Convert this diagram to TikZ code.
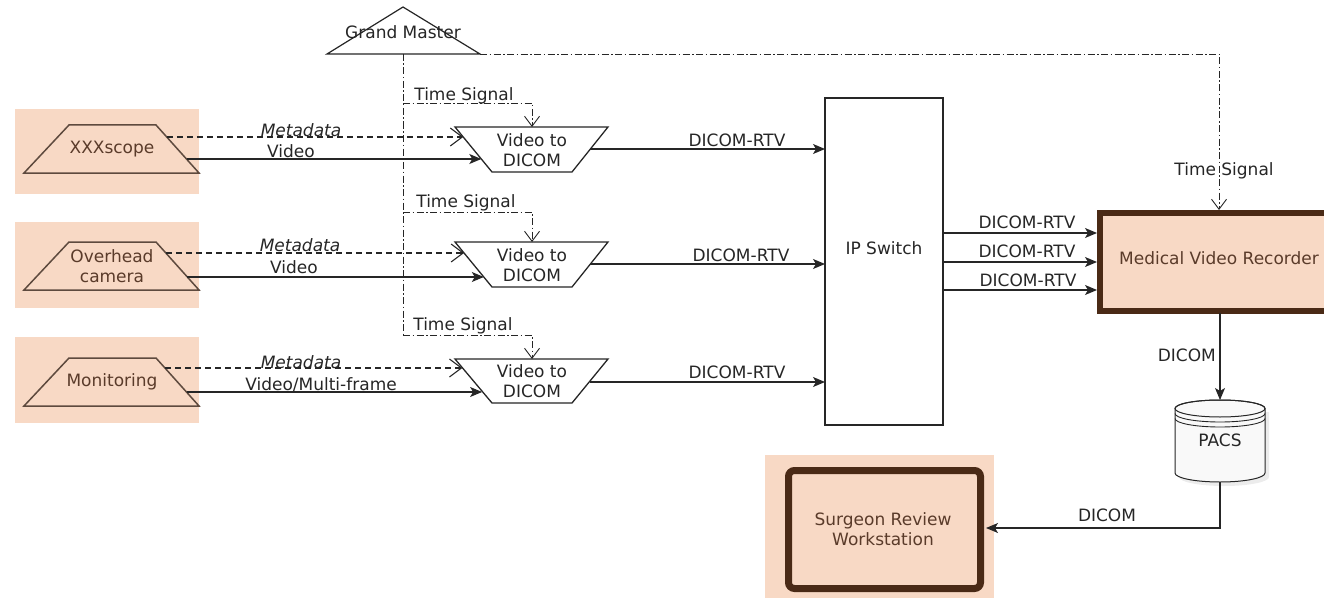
\documentclass[tikz,border=0pt]{standalone}
\usepackage{fontspec}
\setmainfont{DejaVu Sans}
\usetikzlibrary{arrows.meta,calc}
\definecolor{peach}{HTML}{F8D9C5}
\definecolor{brownline}{HTML}{4A2A16}
\definecolor{srcline}{HTML}{5E4A3E}
\definecolor{srctext}{HTML}{5A3B2A}
\definecolor{ink}{HTML}{262626}
\tikzset{
  lbl/.style={inner sep=0pt, text=ink, align=center},
  srclbl/.style={inner sep=0pt, text=srctext, align=center},
  flow/.style={draw=ink, line width=1.1pt, -{Stealth[length=12pt,width=10pt,inset=3pt]}},
  meta/.style={draw=ink, line width=1.1pt, dash pattern=on 6pt off 4pt, -{Straight Barb[length=12pt,width=18pt,line width=1.1pt]}},
  sync/.style={draw=ink, line width=0.9pt, dash pattern=on 7pt off 2.5pt on 1.5pt off 2.5pt},
  syncarrow/.style={sync, -{Straight Barb[length=10pt,width=15pt,line width=0.9pt]}},
  srcshape/.style={draw=srcline, line width=1.5pt},
  convshape/.style={draw=ink, line width=1.3pt, fill=white},
}
\begin{document}
\begin{tikzpicture}[x=1pt,y=-1pt,font=\fontsize{17}{20}\selectfont]
\useasboundingbox (0,0) rectangle (1324,599);

% ---------- backgrounds ----------
\fill[peach] (15,109) rectangle (199,194);
\fill[peach] (15,222) rectangle (199,308);
\fill[peach] (15,337) rectangle (199,423);
\fill[peach] (765,455) rectangle (994,598);

% ---------- sources ----------
\draw[srcshape] (24,173) -- (69,125) -- (156,125) -- (199,173) -- cycle;
\draw[srcshape] (24,290) -- (69,242) -- (156,242) -- (199,290) -- cycle;
\draw[srcshape] (24,406) -- (69,358) -- (156,358) -- (199,406) -- cycle;
\node[srclbl] (src1) at (112,149) {XXXscope};
\node[srclbl] (src2) at (112,266) {Overhead\\camera};
\node[srclbl] (src3) at (112,382) {Monitoring};

% ---------- grand master ----------
\draw[draw=ink, line width=1.2pt, fill=white] (327,54) -- (403,7) -- (480,54) -- cycle;
\node[lbl] (gm) at (403,32) {Grand Master};
\coordinate (gmb) at (403,54);
\coordinate (gmr) at (480,54);

% ---------- converters ----------
\draw[convshape] (455,127) -- (608,127) -- (572,172) -- (492,172) -- cycle;
\draw[convshape] (455,242) -- (608,242) -- (572,287) -- (492,287) -- cycle;
\draw[convshape] (455,359) -- (608,359) -- (572,403) -- (492,403) -- cycle;
\node[lbl] (conv1) at (532,150) {Video to\\DICOM};
\node[lbl] (conv2) at (532,265) {Video to\\DICOM};
\node[lbl] (conv3) at (532,381) {Video to\\DICOM};

% ---------- IP switch ----------
\draw[draw=ink, line width=1.1pt] (825,98) rectangle (943,425);
\node[lbl] (ips) at (884,248) {IP Switch};

% ---------- Medical video recorder ----------
\draw[draw=brownline, fill=peach, line width=6pt] (1100,213) rectangle (1360,310.5);
\node[srclbl] (mvr) at (1219,258) {Medical Video Recorder};

% ---------- PACS ----------
\fill[gray!30, opacity=0.5] (1179,412) -- (1179,477) arc[start angle=180,end angle=360,x radius=45pt,y radius=9pt] -- (1269,412) -- cycle;
\draw[draw=ink, line width=1pt, fill=gray!5] (1175,408.5) -- (1175,473) arc[start angle=180,end angle=360,x radius=45pt,y radius=9pt] -- (1265,408.5) arc[start angle=0,end angle=180,x radius=45pt,y radius=8.5pt] -- cycle;
\draw[draw=ink, line width=1pt] (1220,408.5) ellipse[x radius=45pt,y radius=8.5pt];
\draw[draw=ink, line width=0.9pt] (1175,413.5) arc[start angle=180,end angle=360,x radius=45pt,y radius=8.5pt];
\draw[draw=ink, line width=0.9pt] (1175,418.5) arc[start angle=180,end angle=360,x radius=45pt,y radius=8.5pt];
\node[lbl] (pacs) at (1220,440) {PACS};

% ---------- surgeon workstation ----------
\draw[draw=brownline, line width=7pt, rounded corners=6pt] (788.5,470.5) rectangle (980.5,588.5);
\node[srclbl] (srw) at (883,529) {Surgeon Review\\Workstation};

% ---------- connector end points ----------
\coordinate (s1m) at (166.8,137);  \coordinate (c1m) at (463.2,137);
\coordinate (s1v) at (186.5,159);  \coordinate (c1v) at (481.3,159);
\coordinate (s2m) at (165.9,253);  \coordinate (c2m) at (464,253);
\coordinate (s2v) at (187.4,277);  \coordinate (c2v) at (483.8,277);
\coordinate (s3m) at (165,368);    \coordinate (c3m) at (462.4,368);
\coordinate (s3v) at (186.5,392);  \coordinate (c3v) at (482.1,392);
\coordinate (c1o) at (590.4,149);  \coordinate (i1) at (825,149);
\coordinate (c2o) at (590.4,264);  \coordinate (i2) at (825,264);
\coordinate (c3o) at (589.6,382);  \coordinate (i3) at (825,382);
\coordinate (t1) at (403,103);  \coordinate (t1r) at (532,103);  \coordinate (c1t) at (532,127);
\coordinate (t2) at (403,212);  \coordinate (t2r) at (532,212);  \coordinate (c2t) at (532,242);
\coordinate (t3) at (403,335);  \coordinate (t3r) at (532,335);  \coordinate (c3t) at (532,359);
\coordinate (gmc) at (1219,54); \coordinate (mvrt) at (1219,210);
\coordinate (o1) at (943,233); \coordinate (m1) at (1097,233);
\coordinate (o2) at (943,262); \coordinate (m2) at (1097,262);
\coordinate (o3) at (943,290); \coordinate (m3) at (1097,290);
\coordinate (mvrb) at (1220,313); \coordinate (pacst) at (1220,400);
\coordinate (pacsb) at (1220,482); \coordinate (pk) at (1220,528); \coordinate (srwr) at (986,528);

% ---------- source -> converter ----------
\draw[meta] (s1m) -- (c1m);
\draw[flow] (s1v) -- (c1v);
\draw[meta] (s2m) -- (c2m);
\draw[flow] (s2v) -- (c2v);
\draw[meta] (s3m) -- (c3m);
\draw[flow] (s3v) -- (c3v);
\node[lbl, font=\fontsize{17}{20}\selectfont\itshape] (md1) at (301,130) {Metadata};
\node[lbl] (vd1) at (291,151) {Video};
\node[lbl, font=\fontsize{17}{20}\selectfont\itshape] (md2) at (300,245) {Metadata};
\node[lbl] (vd2) at (294,267) {Video};
\node[lbl, font=\fontsize{17}{20}\selectfont\itshape] (md3) at (301,362) {Metadata};
\node[lbl] (vd3) at (321,385) {Video/Multi-frame};

% ---------- converter -> switch ----------
\draw[flow] (c1o) -- (i1);
\draw[flow] (c2o) -- (i2);
\draw[flow] (c3o) -- (i3);
\node[lbl] (r1) at (737,140) {DICOM-RTV};
\node[lbl] (r2) at (741,255) {DICOM-RTV};
\node[lbl] (r3) at (737,372) {DICOM-RTV};

% ---------- time signal ----------
\draw[sync] (gmb) -- (t3);
\draw[syncarrow] (t1) -- (t1r) -- (c1t);
\draw[syncarrow] (t2) -- (t2r) -- (c2t);
\draw[syncarrow] (t3) -- (t3r) -- (c3t);
\node[lbl] (ts1) at (464,96) {Time Signal};
\node[lbl] (ts2) at (466,203) {Time Signal};
\node[lbl] (ts3) at (463,326) {Time Signal};
\draw[syncarrow] (gmr) -- (gmc) -- (mvrt);
\node[lbl] (ts4) at (1224,171) {Time Signal};

% ---------- switch -> recorder ----------
\draw[flow] (o1) -- (m1);
\draw[flow] (o2) -- (m2);
\draw[flow] (o3) -- (m3);
\node[lbl] (r4) at (1027,222) {DICOM-RTV};
\node[lbl] (r5) at (1027,251) {DICOM-RTV};
\node[lbl] (r6) at (1028,280) {DICOM-RTV};

% ---------- recorder -> PACS -> workstation ----------
\draw[flow] (mvrb) -- (pacst);
\node[lbl, anchor=east] (d1) at (1216,355) {DICOM};
\draw[flow] (pacsb) -- (pk) -- (srwr);
\node[lbl] (d2) at (1107,515) {DICOM};
\end{tikzpicture}
\end{document}
